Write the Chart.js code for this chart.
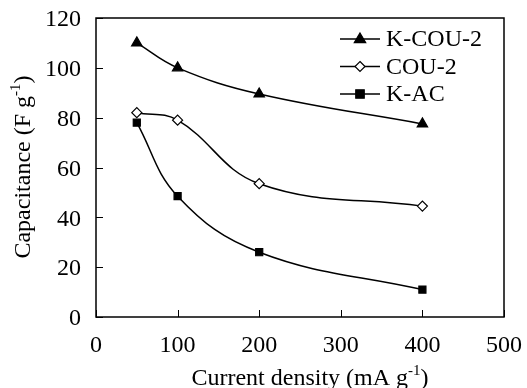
<!DOCTYPE html>
<html>
<head>
<meta charset="utf-8">
<script src="https://cdn.jsdelivr.net/npm/chart.js@4/dist/chart.umd.min.js"></script>
<style>
  html, body { margin: 0; padding: 0; background: #fff; }
  #wrap { width: 527px; height: 388px; position: relative; }
</style>
</head>
<body>
<div id="wrap"><canvas id="capchart"></canvas></div>
<script>
// values
const currentDensity = [50, 100, 200, 400];
const kcou2 = [110, 100, 89.5, 77.5];
const cou2 = [82, 79, 53.5, 44.5];
const kac = [78, 48.5, 26, 11];
const seriesNames = ['K-COU-2', 'COU-2', 'K-AC'];
const xTicks = [0, 100, 200, 300, 400, 500];
const yTicks = [0, 20, 40, 60, 80, 100, 120];

const FONT = '"Liberation Serif", "Times New Roman", serif';
const FS = 24;
const ctx = document.getElementById('capchart').getContext('2d');

function pts(ys) {
  return currentDensity.map((x, i) => ({ x: x, y: ys[i] }));
}

function series(label, ys, style, fill) {
  return {
    label: label,
    data: pts(ys),
    borderColor: '#000',
    borderWidth: 1.5,
    backgroundColor: fill,
    pointStyle: style,
    pointRadius: style === 'triangle' ? 6 : 5,
    pointBorderWidth: 1.2,
    pointBorderColor: '#000',
    pointBackgroundColor: fill,
    tension: 0.4,
    fill: false
  };
}

function drawMarker(c, style, r, x, y) {
  c.beginPath();
  if (style === 'triangle') {
    c.moveTo(x, y - r); c.lineTo(x + r * 0.95, y + r * 0.6); c.lineTo(x - r * 0.95, y + r * 0.6);
  } else if (style === 'rectRot') {
    c.moveTo(x, y - r); c.lineTo(x + r, y); c.lineTo(x, y + r); c.lineTo(x - r, y);
  } else {
    c.rect(x - r * 0.85, y - r * 0.85, r * 1.7, r * 1.7);
  }
  c.closePath();
  c.fill();
  c.stroke();
}

/* frame, inward ticks, axis titles and legend */
const decor = {
  id: 'decor',
  afterDraw(chart) {
    const c = chart.ctx;
    const a = chart.chartArea;
    const xs = chart.scales.x, ys = chart.scales.y;
    c.save();
    c.strokeStyle = '#000';
    c.lineWidth = 1.5;
    c.strokeRect(a.left, a.top, a.right - a.left, a.bottom - a.top);

    c.lineWidth = 1;
    yTicks.forEach(v => {
      const py = Math.round(ys.getPixelForValue(v)) + 0.5;
      c.beginPath(); c.moveTo(a.left, py); c.lineTo(a.left + 7, py); c.stroke();
    });
    xTicks.forEach(v => {
      const px = Math.round(xs.getPixelForValue(v)) + 0.5;
      c.beginPath(); c.moveTo(px, a.bottom); c.lineTo(px, a.bottom - 7); c.stroke();
    });

    // axis titles with superscript -1
    c.fillStyle = '#000';
    c.textBaseline = 'alphabetic';
    function titleWithSup(main, tail, cx, cy) {
      c.font = FS + 'px ' + FONT;
      const w1 = c.measureText(main).width;
      c.font = '15px ' + FONT;
      const w2 = c.measureText('-1').width;
      c.font = FS + 'px ' + FONT;
      const w3 = c.measureText(tail).width;
      let x = cx - (w1 + w2 + w3) / 2;
      c.textAlign = 'left';
      c.fillText(main, x, cy); x += w1;
      c.font = '15px ' + FONT;
      c.fillText('-1', x, cy - 10); x += w2;
      c.font = FS + 'px ' + FONT;
      c.fillText(tail, x, cy);
    }
    titleWithSup('Current density (mA g', ')', 310, 385);
    c.save();
    c.translate(30, 167);
    c.rotate(-Math.PI / 2);
    titleWithSup('Capacitance (F g', ')', 0, 0);
    c.restore();

    // legend
    const rows = [39, 66.5, 94];
    chart.data.datasets.forEach((ds, i) => {
      const y = rows[i];
      c.strokeStyle = '#000';
      c.lineWidth = 1.5;
      c.beginPath(); c.moveTo(340, y); c.lineTo(380, y); c.stroke();
      c.fillStyle = ds.pointBackgroundColor;
      c.lineWidth = ds.pointBorderWidth;
      drawMarker(c, ds.pointStyle, ds.pointRadius, 360, y);
      c.fillStyle = '#000';
      c.font = FS + 'px ' + FONT;
      c.textAlign = 'left';
      c.textBaseline = 'middle';
      c.fillText(seriesNames[i], 386, y + 1);
    });
    c.restore();
  }
};

new Chart(ctx, {
  type: 'line',
  data: {
    datasets: [
      series(seriesNames[0], kcou2, 'triangle', '#000'),
      series(seriesNames[1], cou2, 'rectRot', '#fff'),
      series(seriesNames[2], kac, 'rect', '#000')
    ]
  },
  options: {
    responsive: true,
    maintainAspectRatio: false,
    animation: false,
    layout: { padding: { top: 18, right: 23, left: 0, bottom: 0 } },
    plugins: { legend: { display: false }, tooltip: { enabled: false } },
    scales: {
      x: {
        type: 'linear',
        min: 0, max: 500,
        afterBuildTicks: s => { s.ticks = xTicks.map(v => ({ value: v })); },
        afterFit: s => { s.height = 71; s.paddingLeft = 0; s.paddingRight = 0; },
        grid: { display: false, drawTicks: false },
        border: { display: false },
        ticks: { color: '#000', padding: 14, maxRotation: 0, font: { family: FONT, size: FS } }
      },
      y: {
        min: 0, max: 120,
        afterBuildTicks: s => { s.ticks = yTicks.map(v => ({ value: v })); },
        afterFit: s => { s.width = 96; s.paddingTop = 0; s.paddingBottom = 0; },
        grid: { display: false, drawTicks: false },
        border: { display: false },
        ticks: { color: '#000', padding: 15, labelOffset: 2, font: { family: FONT, size: FS } }
      }
    }
  },
  plugins: [decor]
});
</script>
</body>
</html>
